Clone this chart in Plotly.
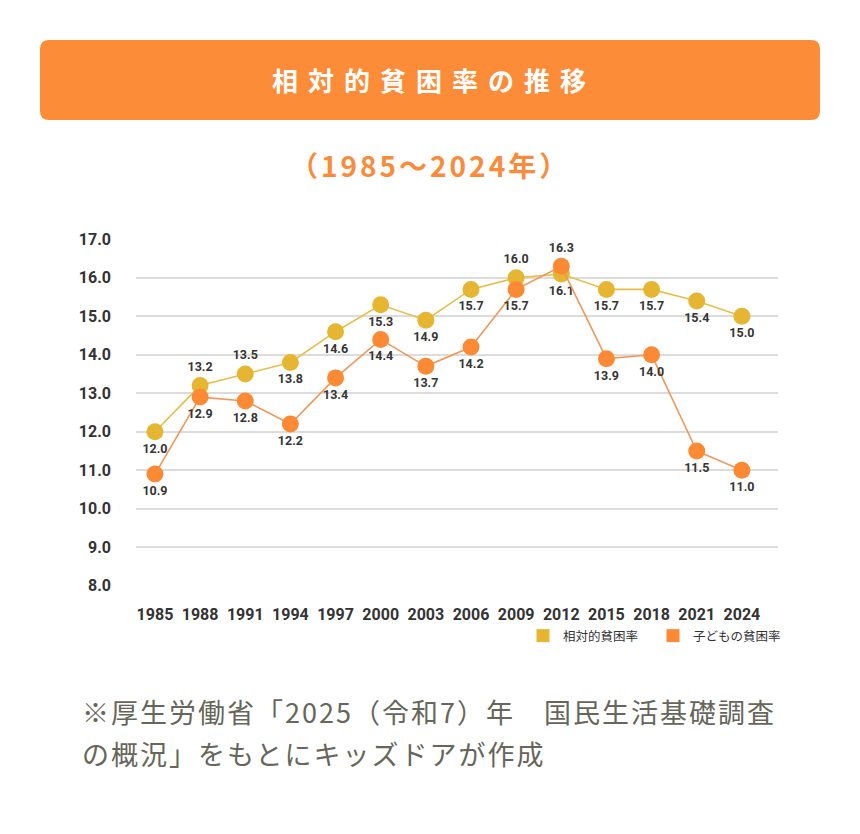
import plotly.graph_objects as go

years = ["1985", "1988", "1991", "1994", "1997", "2000", "2003", "2006",
         "2009", "2012", "2015", "2018", "2021", "2024"]
relative_poverty = [12.0, 13.2, 13.5, 13.8, 14.6, 15.3, 14.9, 15.7,
                    16.0, 16.1, 15.7, 15.7, 15.4, 15.0]
child_poverty = [10.9, 12.9, 12.8, 12.2, 13.4, 14.4, 13.7, 14.2,
                 15.7, 16.3, 13.9, 14.0, 11.5, 11.0]
series_names = ["相対的貧困率", "子どもの貧困率"]
y_ticks = [8, 9, 10, 11, 12, 13, 14, 15, 16, 17]

title_text = "相対的貧困率の推移"
subtitle_text = "（1985〜2024年）"
footer_lines = ["※厚生労働省「2025（令和7）年　国民生活基礎調査",
                "の概況」をもとにキッズドアが作成"]

# layout geometry (screen pixels; page body adds an 8px offset)
W, H = 860, 834
OFF = 8
L, R, T, B = 136, 778, 239, 586

def px(x):
    return (x - L) / (R - L)

def py(y):
    return (B - y) / (B - T)

GOLD = "#E6B531"
GOLD_LINE = "#E8BD48"
ORANGE = "#FC8A35"
ORANGE_LINE = "#F29657"
BANNER = "#FD8C38"

xi = list(range(len(years)))
pos_rel = ["bottom center"] * len(years)
for i in (1, 2, 8):
    pos_rel[i] = "top center"
pos_child = ["bottom center"] * len(years)
pos_child[9] = "top center"

label_font = dict(family="Roboto, sans-serif", size=12.5, color="#353535", weight=700)

fig = go.Figure()
fig.add_trace(go.Scatter(
    x=xi, y=relative_poverty, mode="lines+markers+text",
    name=series_names[0], showlegend=False,
    line=dict(color=GOLD_LINE, width=1.6),
    marker=dict(color=GOLD, size=17),
    text=[f"{v:.1f}" for v in relative_poverty], textposition=pos_rel,
    textfont=label_font, cliponaxis=False,
))
fig.add_trace(go.Scatter(
    x=xi, y=child_poverty, mode="lines+markers+text",
    name=series_names[1], showlegend=False,
    line=dict(color=ORANGE_LINE, width=1.6),
    marker=dict(color=ORANGE, size=17),
    text=[f"{v:.1f}" for v in child_poverty], textposition=pos_child,
    textfont=label_font, cliponaxis=False,
))
# legend entries
for nm, col in zip(series_names, [GOLD, ORANGE]):
    fig.add_trace(go.Scatter(
        x=[None], y=[None], mode="markers", name=nm,
        marker=dict(color=col, size=13, symbol="square"),
    ))

# banner
x0, x1, y0, y1, r = 40, 820, 40, 120, 9
pts = [("M", x0 + r, y0), ("L", x1 - r, y0), ("Q", x1, y0, x1, y0 + r),
       ("L", x1, y1 - r), ("Q", x1, y1, x1 - r, y1), ("L", x0 + r, y1),
       ("Q", x0, y1, x0, y1 - r), ("L", x0, y0 + r), ("Q", x0, y0, x0 + r, y0)]
path = ""
for p in pts:
    cmd, coords = p[0], p[1:]
    s = " ".join(f"{px(coords[k]):.5f},{py(coords[k+1]):.5f}" for k in range(0, len(coords), 2))
    path += f"{cmd} {s} "
path += "Z"

fig.add_shape(type="path", path=path, xref="paper", yref="paper",
              fillcolor=BANNER, line=dict(width=0), layer="below")

annotations = [
    dict(x=px(434), y=py(80), xref="paper", yref="paper",
         text=f'<span style="letter-spacing:10px">{title_text}</span>',
         showarrow=False, xanchor="center", yanchor="middle",
         font=dict(family="Noto Sans CJK JP", size=26, color="white", weight=700)),
    dict(x=px(430), y=py(165), xref="paper", yref="paper",
         text=f'<span style="letter-spacing:3px">{subtitle_text}</span>',
         showarrow=False, xanchor="center", yanchor="middle",
         font=dict(family="Noto Sans CJK JP", size=28, color="#F98B3A", weight=700)),
]
for line, yy in zip(footer_lines, [711, 753]):
    annotations.append(dict(
        x=px(80), y=py(yy), xref="paper", yref="paper",
        text=f'<span style="letter-spacing:2px">{line}</span>',
        showarrow=False, xanchor="left", yanchor="middle",
        font=dict(family="Noto Sans CJK JP", size=27, color="#66665a", weight=400)))

tick_font = dict(family="Roboto, sans-serif", size=16, color="#333333", weight=700)

fig.update_layout(
    width=W, height=H,
    margin=dict(l=L - OFF, r=W - (R - OFF), t=T - OFF, b=H - (B - OFF), pad=0),
    paper_bgcolor="white", plot_bgcolor="white",
    annotations=annotations,
    showlegend=True,
    legend=dict(orientation="h", x=px(783), xanchor="right", y=py(636), yanchor="middle",
                font=dict(family="Noto Sans CJK JP", size=12.5, color="#333333"),
                itemwidth=30, entrywidth=85, bgcolor="rgba(0,0,0,0)"),
    xaxis=dict(range=[-0.42, 13.8], tickmode="array", tickvals=xi, ticktext=years,
               showgrid=False, zeroline=False, showline=False,
               ticks="", tickfont=tick_font, ticklabelstandoff=17),
    yaxis=dict(range=[7.99, 17.01], tickmode="array", tickvals=y_ticks,
               ticktext=[f"{v:.1f}" for v in y_ticks],
               showgrid=True, gridcolor="#dcdcdc", gridwidth=1.5,
               zeroline=False, showline=False, ticks="",
               tickfont=tick_font, ticklabelstandoff=24),
)

fig.write_html("out.html")
